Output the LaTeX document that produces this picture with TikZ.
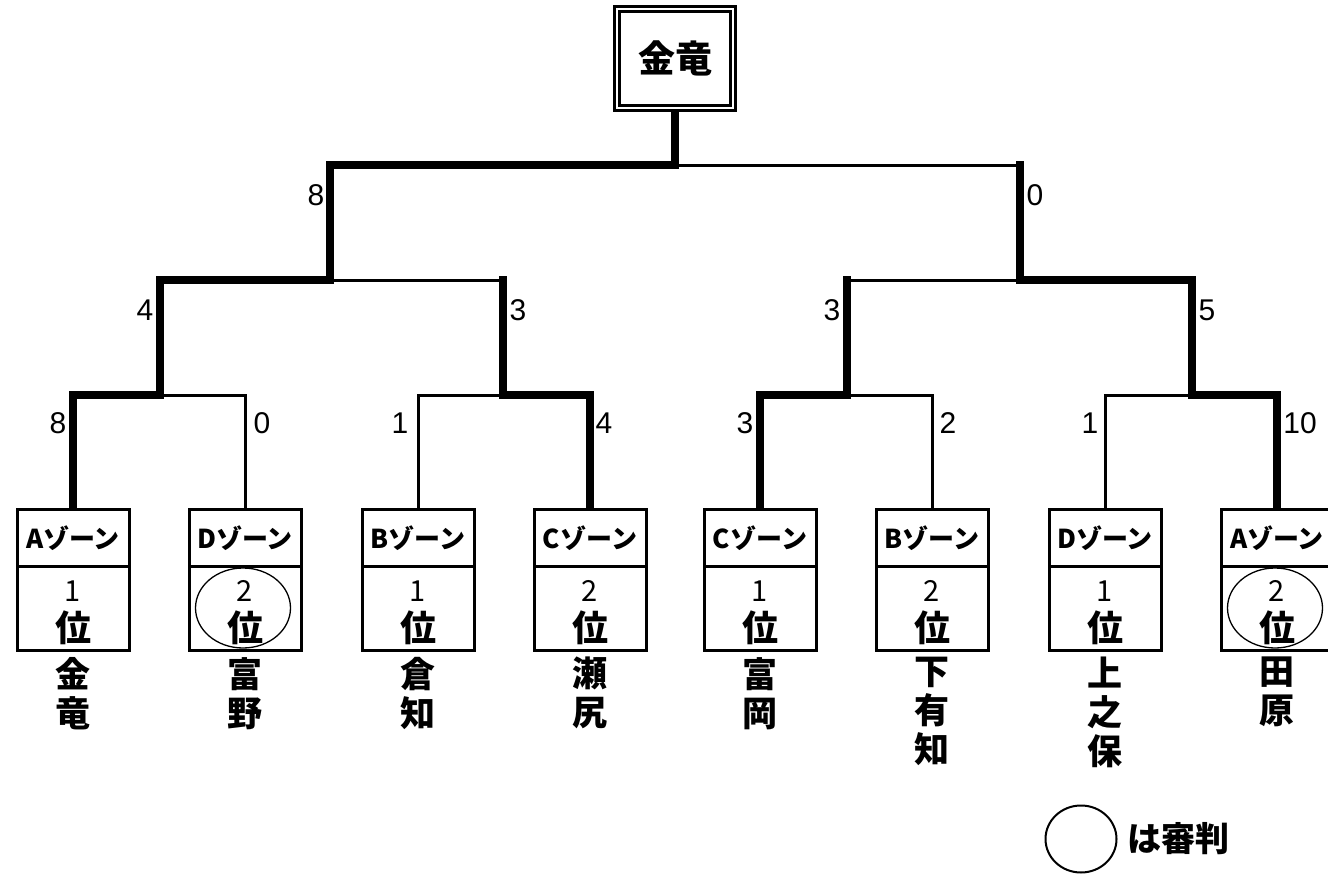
\documentclass[tikz,border=0pt]{standalone}
\usepackage{fontspec}
\usetikzlibrary{shapes.geometric}
\newfontfamily\jp{Noto Sans CJK JP}
\newfontfamily\num{Liberation Sans}
\newcommand\bconn[4]{\draw[#3] (#1) -- (#1 |- #2); \draw[#4] (#1 |- #2) -- (#2);}
\begin{document}
\begin{tikzpicture}[x=1pt,y=-1pt,
  thn/.style={line width=3pt, line cap=rect},
  thk/.style={line width=8.5pt, line cap=rect},
  zonebox/.style={draw, line width=3pt, fill=white, minimum width=112pt, minimum height=57pt, anchor=north, inner sep=0pt, font=\jp\bfseries\fontsize{26}{30}\selectfont},
  rankbox/.style={draw, line width=3pt, fill=white, minimum width=112pt, minimum height=84pt, anchor=north, inner sep=0pt},
  rnum/.style={inner sep=0pt, font=\jp\fontsize{29}{29}\selectfont},
  rpos/.style={inner sep=0pt, font=\jp\bfseries\fontsize{36}{36}\selectfont},
  teamname/.style={anchor=north, align=center, inner sep=0pt, font=\jp\bfseries\fontsize{35}{39}\selectfont},
  score/.style={inner sep=0pt, font=\num\fontsize{30}{30}\selectfont},
  refc/.style={draw, ellipse, line width=1.3pt, minimum width=95pt, minimum height=80pt, inner sep=0pt},
  champ/.style={draw, double, line width=3pt, double distance=2.4pt, fill=white, minimum width=116pt, minimum height=99pt, inner sep=0pt, font=\jp\bfseries\fontsize{37}{37}\selectfont}
]
\useasboundingbox (0,0) rectangle (1328,875);

% junction coordinates
\coordinate (j1) at (160,395);
\coordinate (j2) at (503,395);
\coordinate (j3) at (847,395);
\coordinate (j4) at (1192,395);
\coordinate (k1) at (330,280);
\coordinate (k2) at (1020,280);
\coordinate (f) at (675,165);

\foreach \i/\x in {1/73,2/245,3/418,4/590,5/760,6/932,7/1105,8/1277}{
  \coordinate (p\i) at (\x,508);
}

% champion box
\node[champ] (top) at (675,58.5) {金竜};

% connectors: thin first
\bconn{p2}{j1}{thn}{thn}
\bconn{p3}{j2}{thn}{thn}
\bconn{p6}{j3}{thn}{thn}
\bconn{p7}{j4}{thn}{thn}
\draw[thn] (k2 |- f) -- (f);
\draw[thn] (j2 |- k1) -- (k1);
\draw[thn] (j3 |- k2) -- (k2);
% thick
\bconn{p1}{j1}{thk}{thk}
\bconn{p4}{j2}{thk}{thk}
\bconn{p5}{j3}{thk}{thk}
\bconn{p8}{j4}{thk}{thk}
\bconn{j1}{k1}{thk}{thk}
\draw[thk] (j2) -- (j2 |- k1);
\draw[thk] (j3) -- (j3 |- k2);
\bconn{j4}{k2}{thk}{thk}
\bconn{k1}{f}{thk}{thk}
\draw[thk] (k2) -- (k2 |- f);
\draw[thk] (top.south) -- (f);
\node[champ] at (675,58.5) {金竜};

% boxes
\foreach \i/\x/\z/\r/\n in {1/73/A/1/金\\竜, 2/245/D/2/富\\野, 3/418/B/1/倉\\知, 4/590/C/2/瀬\\尻, 5/760/C/1/富\\岡, 6/932/B/2/下\\有\\知, 7/1105/D/1/上\\之\\保, 8/1277/A/2/田\\原}{
  \node[zonebox] (z\i) at (\x,508) {\z ゾーン};
  \node[rankbox] (r\i) at (\x,565) {};
  \node[rnum] (rn\i) at (\x,591) {\r};
  \node[rpos] (rp\i) at (\x,628) {位};
  \node[teamname] (n\i) at (\x,657) {\n};
}

% referee marks
\node[refc] (e2) at (243,608) {};
\node[refc] (e8) at (1275,608) {};

% scores
\node[score] (s1) at (58,423) {8};
\node[score] (s2) at (262,423) {0};
\node[score] (s3) at (400,423) {1};
\node[score] (s4) at (604,423) {4};
\node[score] (s5) at (745,423) {3};
\node[score] (s6) at (948,423) {2};
\node[score] (s7) at (1090,423) {1};
\node[score] (s8) at (1300,423) {10};
\node[score] (t1) at (145,310) {4};
\node[score] (t2) at (518,310) {3};
\node[score] (t3) at (832,310) {3};
\node[score] (t4) at (1207,310) {5};
\node[score] (u1) at (316,195) {8};
\node[score] (u2) at (1035,195) {0};

% legend
\node[draw, ellipse, line width=2pt, minimum width=71pt, minimum height=67pt, inner sep=0pt] (lg) at (1081,839) {};
\node[anchor=west, inner sep=0pt, font=\jp\bfseries\fontsize{34}{34}\selectfont] (lgt) at (1127,839) {は審判};
\end{tikzpicture}
\end{document}
